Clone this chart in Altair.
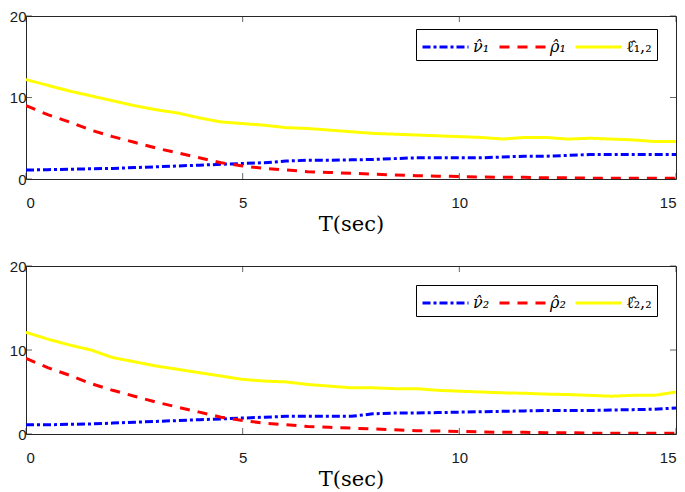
import altair as alt
import pandas as pd

# ---- data ----
t = [0, 0.5, 1, 1.5, 2, 2.5, 3, 3.5, 4, 4.5, 5, 5.5, 6, 6.5, 7, 7.5,
     8, 8.5, 9, 9.5, 10, 10.5, 11, 11.5, 12, 12.5, 13, 13.5, 14, 14.5, 15]

nu1 = [1.1, 1.15, 1.2, 1.25, 1.3, 1.4, 1.5, 1.6, 1.7, 1.8, 1.9, 2.0, 2.2, 2.3, 2.3, 2.35,
       2.4, 2.5, 2.6, 2.6, 2.6, 2.6, 2.7, 2.8, 2.8, 2.9, 3.0, 3.0, 3.0, 3.0, 3.0]
rho1 = [9.0, 7.9, 7.0, 6.0, 5.2, 4.5, 3.8, 3.2, 2.6, 2.0, 1.6, 1.3, 1.1, 0.9, 0.8, 0.7,
        0.6, 0.5, 0.4, 0.35, 0.3, 0.25, 0.2, 0.2, 0.15, 0.15, 0.1, 0.1, 0.1, 0.1, 0.1]
ell12 = [12.2, 11.5, 10.8, 10.2, 9.6, 9.0, 8.5, 8.1, 7.5, 7.0, 6.8, 6.6, 6.3, 6.2, 6.0, 5.8,
         5.6, 5.5, 5.4, 5.3, 5.2, 5.1, 4.9, 5.1, 5.1, 4.9, 5.0, 4.9, 4.8, 4.6, 4.6]

nu2 = [1.1, 1.1, 1.15, 1.2, 1.3, 1.4, 1.5, 1.6, 1.7, 1.8, 1.9, 2.0, 2.1, 2.1, 2.1, 2.1,
       2.4, 2.5, 2.5, 2.55, 2.6, 2.65, 2.7, 2.75, 2.8, 2.8, 2.8, 2.85, 2.9, 2.95, 3.1]
rho2 = [9.0, 7.9, 7.0, 6.0, 5.2, 4.5, 3.8, 3.2, 2.6, 2.0, 1.6, 1.3, 1.1, 0.9, 0.8, 0.7,
        0.6, 0.5, 0.4, 0.35, 0.3, 0.25, 0.2, 0.2, 0.15, 0.15, 0.1, 0.1, 0.1, 0.1, 0.1]
ell22 = [12.1, 11.3, 10.6, 10.0, 9.1, 8.6, 8.1, 7.7, 7.3, 6.9, 6.5, 6.3, 6.2, 5.9, 5.7, 5.5,
         5.5, 5.4, 5.4, 5.2, 5.1, 5.0, 4.9, 4.85, 4.75, 4.7, 4.6, 4.5, 4.6, 4.6, 5.0]

labels1 = ["\u03bd\u0302\u2081", "\u03c1\u0302\u2081", "\u2113\u0302\u2081,\u2082"]
labels2 = ["\u03bd\u0302\u2082", "\u03c1\u0302\u2082", "\u2113\u0302\u2082,\u2082"]
colors = ["#0000ff", "#ff0000", "#ffff00"]
dashes = [[8, 3, 3, 3], [10, 8], [1, 0]]

x_ticks = [0, 5, 10, 15]
y_ticks = [0, 10, 20]
x_title = "T(sec)"

FRAME = "#262626"
TK = 6  # inward tick length


def panel(nu, rho, ell, labels, h, ly):
    n = len(t)
    df = pd.DataFrame({
        "t": t * 3,
        "v": nu + rho + ell,
        "s": [labels[0]] * n + [labels[1]] * n + [labels[2]] * n,
    })
    xs = alt.Scale(domain=[0, 15], nice=False, zero=False)
    ys = alt.Scale(domain=[0, 20], nice=False)
    x = alt.X("t:Q", scale=xs,
              axis=alt.Axis(values=x_ticks, title=x_title, labelPadding=16,
                            titlePadding=3))
    y = alt.Y("v:Q", scale=ys,
              axis=alt.Axis(values=y_ticks, title=None, labelPadding=0))
    leg = alt.Legend(orient="none", legendX=390, legendY=ly, direction="horizontal",
                     title=None, strokeColor="black", fillColor="white", padding=5,
                     symbolType="M-1,0L3,0", symbolSize=529, symbolStrokeWidth=3,
                     labelFont="DejaVu Serif",
                     labelFontStyle={"expr": "indexof(datum.label, '\u2113') >= 0 ? 'normal' : 'italic'"},
                     labelFontSize=16, labelOffset=26, columnPadding=3,
                     labelColor="black")
    lines = alt.Chart(df).mark_line(strokeWidth=3, clip=True).encode(
        x=x, y=y,
        color=alt.Color("s:N", scale=alt.Scale(domain=labels, range=colors), legend=leg),
        strokeDash=alt.StrokeDash("s:N", scale=alt.Scale(domain=labels, range=dashes), legend=leg),
    )
    xt = pd.DataFrame({"t": x_ticks})
    yt = pd.DataFrame({"v": y_ticks})
    tick_b = alt.Chart(xt).mark_tick(orient="vertical", size=TK, thickness=1, yOffset=-TK / 2,
                                     color=FRAME).encode(x="t:Q", y=alt.datum(0))
    tick_t = alt.Chart(xt).mark_tick(orient="vertical", size=TK, thickness=1, yOffset=TK / 2,
                                     color=FRAME).encode(x="t:Q", y=alt.datum(20))
    tick_l = alt.Chart(yt).mark_tick(orient="horizontal", size=TK, thickness=1, xOffset=TK / 2,
                                     color=FRAME).encode(y="v:Q", x=alt.datum(0))
    tick_r = alt.Chart(yt).mark_tick(orient="horizontal", size=TK, thickness=1, xOffset=-TK / 2,
                                     color=FRAME).encode(y="v:Q", x=alt.datum(15))
    return alt.layer(lines, tick_b, tick_t, tick_l, tick_r).properties(width=650, height=h)


top = panel(nu1, rho1, ell12, labels1, 163, 13)
bottom = panel(nu2, rho2, ell22, labels2, 168, 19)

chart = alt.vconcat(top, bottom, spacing=23).resolve_scale(
    color="independent", strokeDash="independent"
).resolve_legend(
    color="independent", strokeDash="independent"
).properties(
    padding={"left": 0, "top": 0, "right": 0, "bottom": 0}
).configure_view(
    stroke=FRAME, strokeWidth=1
).configure_axis(
    domain=False, ticks=False, tickSize=0, grid=False,
    labelFont="Liberation Sans", labelFontSize=15, labelColor="#1a1a1a",
    titleFont="DejaVu Serif", titleFontSize=21, titleFontWeight="normal",
    titleColor="black"
)

chart.save("out.html", embed_options={"renderer": "svg", "actions": False})
